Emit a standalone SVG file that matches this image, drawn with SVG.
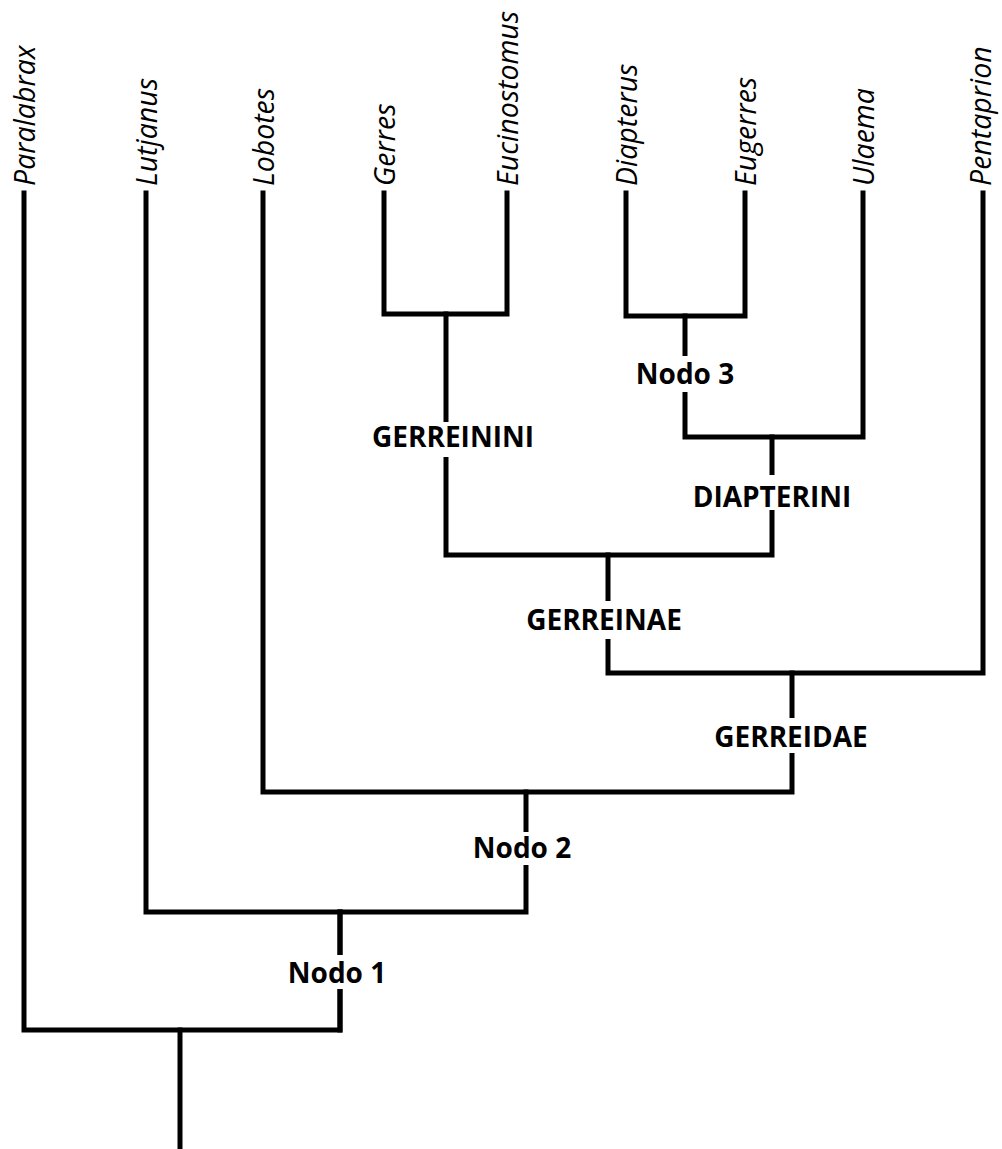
<svg xmlns="http://www.w3.org/2000/svg" width="1002" height="1149" viewBox="0 0 1002 1149">
<style>
.e{fill:none;stroke:#000;stroke-width:5;stroke-linecap:square;stroke-linejoin:miter}
.t{font-family:"Open Sans","Liberation Sans",sans-serif;font-style:italic;font-size:28.5px;fill:#000}
.n{font-family:"Open Sans","Liberation Sans",sans-serif;font-weight:bold;font-size:28px;fill:#000;text-anchor:middle}
.bg{fill:#fff}
</style>
<rect width="1002" height="1149" fill="#fff"/>
<g id="connectors">
<path class="e" d="M24,193V1030H340V912"/>
<path class="e" d="M180,1030V1149"/>
<path class="e" d="M146,193V912H526V792"/>
<path class="e" d="M340,912V1030"/>
<path class="e" d="M263,193V792H792V673"/>
<path class="e" d="M608,555V673H983V193"/>
<path class="e" d="M446,314V555H772V437"/>
<path class="e" d="M384,193V314H507V193"/>
<path class="e" d="M685,316V437H863V193"/>
<path class="e" d="M626,193V316H745V193"/>
</g>
<g id="tip-paralabrax"><text class="t" transform="translate(35,186) rotate(-90)">Paralabrax</text></g>
<g id="tip-lutjanus"><text class="t" transform="translate(157,186) rotate(-90)">Lutjanus</text></g>
<g id="tip-lobotes"><text class="t" transform="translate(274,186) rotate(-90)">Lobotes</text></g>
<g id="tip-gerres"><text class="t" transform="translate(395,186) rotate(-90)">Gerres</text></g>
<g id="tip-eucinostomus"><text class="t" transform="translate(518,186) rotate(-90)">Eucinostomus</text></g>
<g id="tip-diapterus"><text class="t" transform="translate(637,186) rotate(-90)">Diapterus</text></g>
<g id="tip-eugerres"><text class="t" transform="translate(756,186) rotate(-90)">Eugerres</text></g>
<g id="tip-ulaema"><text class="t" transform="translate(874,186) rotate(-90)">Ulaema</text></g>
<g id="tip-pentaprion"><text class="t" transform="translate(991,186) rotate(-90)">Pentaprion</text></g>
<g id="node-nodo3"><rect class="bg" x="630" y="356" width="110" height="36"/><text class="n" x="685" y="384">Nodo 3</text></g>
<g id="node-gerreinini"><rect class="bg" x="368" y="422" width="170" height="35"/><text class="n" x="453" y="447">GERREININI</text></g>
<g id="node-diapterini"><rect class="bg" x="687" y="475" width="170" height="35"/><text class="n" x="772" y="507">DIAPTERINI</text></g>
<g id="node-gerreinae"><rect class="bg" x="528" y="601" width="152" height="38"/><text class="n" x="604" y="630">GERREINAE</text></g>
<g id="node-gerreidae"><rect class="bg" x="704" y="718" width="175" height="35"/><text class="n" x="791" y="747">GERREIDAE</text></g>
<g id="node-nodo2"><rect class="bg" x="468" y="832" width="108" height="33"/><text class="n" x="522" y="858">Nodo 2</text></g>
<g id="node-nodo1"><rect class="bg" x="283" y="955" width="108" height="34"/><text class="n" x="337" y="983">Nodo 1</text></g>
</svg>
